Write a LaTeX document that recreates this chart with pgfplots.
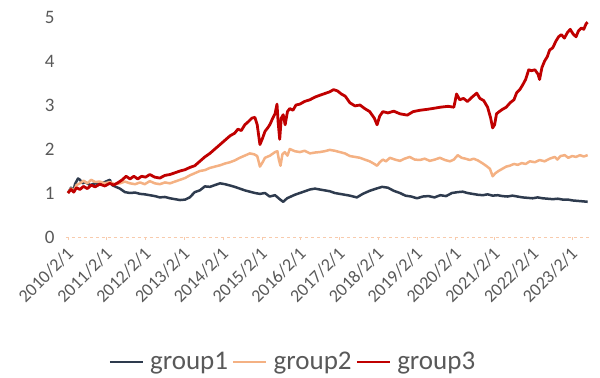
\documentclass[border=0pt]{standalone}
\usepackage{pgfplots}
\pgfplotsset{compat=1.18}
\usepackage{fontspec}
\setmainfont{Carlito}
\definecolor{gA}{HTML}{2E3B4E}
\definecolor{gB}{HTML}{F4B183}
\definecolor{gC}{HTML}{C00000}
\definecolor{txt}{HTML}{595959}
\definecolor{axl}{HTML}{F8CBAD}
\begin{document}
\begin{tikzpicture}
\path[use as bounding box] (-66bp,-141bp) rectangle (534bp,237bp);
\begin{axis}[
  at={(0,0)}, anchor=south west,
  scale only axis, width=524bp, height=220bp,
  xmin=2009.95, xmax=2023.46, ymin=0, ymax=5,
  axis x line*=bottom, axis y line*=left,
  x axis line style={draw=axl, dashed, line width=0.8bp, -},
  y axis line style={draw=none},
  xtick={2010,...,2023},
  xticklabels={2010/2/1,2011/2/1,2012/2/1,2013/2/1,2014/2/1,2015/2/1,2016/2/1,2017/2/1,2018/2/1,2019/2/1,2020/2/1,2021/2/1,2022/2/1,2023/2/1},
  x tick label style={xshift=3bp, yshift=-10bp, rotate=45, anchor=east, font=\fontsize{18bp}{18bp}\selectfont, text=txt, inner sep=1bp},
  xtick style={draw=axl, line width=0.6bp},
  major tick length=3bp,
  tick align=outside,
  ytick={0,...,5},
  ytick style={draw=none},
  y tick label style={font=\fontsize{19bp}{19bp}\selectfont, text=txt, xshift=-5bp},
  /pgf/number format/assume math mode=true,
  legend columns=-1,
  legend style={at={(0.433,-0.568)}, anchor=center, draw=none, fill=none,
    font=\fontsize{27bp}{27bp}\selectfont, text=txt, inner sep=0pt,
    /tikz/every even column/.append style={column sep=2bp},
    /tikz/every odd column/.append style={column sep=4bp}},
  legend image code/.code={\draw[#1, line width=2.6bp] (0bp,0bp) -- (33bp,0bp);},
  clip=false,
]
\addplot[gA, line width=2.5bp, line join=round] coordinates {
(2010.00,1.00)(2010.08,1.12)(2010.15,1.05)(2010.18,1.20)(2010.26,1.33)(2010.31,1.30)(2010.38,1.22)(2010.44,1.25)(2010.57,1.18)(2010.70,1.22)(2010.82,1.20)(2010.95,1.25)(2011.08,1.30)(2011.14,1.18)(2011.21,1.15)(2011.34,1.10)(2011.47,1.02)(2011.60,1.00)(2011.73,1.01)(2011.86,0.98)(2011.98,0.97)(2012.11,0.95)(2012.24,0.93)(2012.37,0.90)(2012.50,0.91)(2012.63,0.88)(2012.76,0.86)(2012.89,0.84)(2013.02,0.85)(2013.14,0.90)(2013.27,1.02)(2013.40,1.06)(2013.53,1.15)(2013.66,1.14)(2013.79,1.18)(2013.92,1.22)(2014.05,1.20)(2014.18,1.17)(2014.30,1.14)(2014.43,1.10)(2014.56,1.06)(2014.69,1.03)(2014.82,1.00)(2014.95,0.98)(2015.08,1.00)(2015.20,0.92)(2015.34,0.95)(2015.46,0.86)(2015.55,0.80)(2015.65,0.88)(2015.75,0.92)(2015.85,0.96)(2015.98,1.00)(2016.11,1.04)(2016.24,1.08)(2016.37,1.10)(2016.49,1.08)(2016.62,1.06)(2016.75,1.04)(2016.88,1.00)(2017.01,0.98)(2017.14,0.96)(2017.27,0.94)(2017.45,0.90)(2017.60,0.98)(2017.78,1.05)(2017.95,1.10)(2018.10,1.14)(2018.25,1.12)(2018.40,1.05)(2018.56,1.00)(2018.70,0.94)(2018.85,0.92)(2019.00,0.88)(2019.15,0.92)(2019.30,0.93)(2019.45,0.90)(2019.60,0.95)(2019.75,0.93)(2019.90,1.00)(2020.05,1.02)(2020.18,1.03)(2020.30,1.00)(2020.43,0.98)(2020.57,0.96)(2020.70,0.95)(2020.82,0.97)(2020.95,0.94)(2021.08,0.95)(2021.20,0.93)(2021.33,0.92)(2021.46,0.94)(2021.59,0.92)(2021.72,0.90)(2021.85,0.89)(2021.98,0.88)(2022.11,0.90)(2022.24,0.88)(2022.37,0.87)(2022.50,0.86)(2022.63,0.87)(2022.76,0.85)(2022.89,0.85)(2023.02,0.83)(2023.15,0.82)(2023.28,0.81)(2023.40,0.80)
};
\addlegendentry{group1}
\addplot[gB, line width=2.5bp, line join=round] coordinates {
(2010.00,1.00)(2010.08,1.10)(2010.15,1.05)(2010.22,1.18)(2010.31,1.22)(2010.40,1.28)(2010.50,1.22)(2010.60,1.30)(2010.70,1.25)(2010.82,1.26)(2010.95,1.22)(2011.08,1.25)(2011.20,1.20)(2011.34,1.22)(2011.47,1.26)(2011.60,1.22)(2011.73,1.20)(2011.86,1.24)(2011.98,1.20)(2012.11,1.27)(2012.24,1.22)(2012.37,1.20)(2012.50,1.24)(2012.63,1.22)(2012.76,1.26)(2012.89,1.30)(2013.02,1.34)(2013.14,1.40)(2013.27,1.45)(2013.40,1.50)(2013.53,1.52)(2013.66,1.57)(2013.79,1.60)(2013.92,1.63)(2014.05,1.67)(2014.18,1.70)(2014.30,1.74)(2014.43,1.80)(2014.56,1.85)(2014.69,1.90)(2014.80,1.88)(2014.88,1.84)(2014.95,1.60)(2015.02,1.70)(2015.08,1.80)(2015.21,1.85)(2015.34,1.93)(2015.40,1.95)(2015.44,1.75)(2015.48,1.62)(2015.53,1.88)(2015.59,1.93)(2015.66,1.85)(2015.72,2.00)(2015.85,1.95)(2015.98,1.93)(2016.10,1.96)(2016.24,1.90)(2016.37,1.92)(2016.49,1.93)(2016.62,1.95)(2016.75,1.98)(2016.88,1.96)(2017.01,1.93)(2017.14,1.90)(2017.27,1.84)(2017.40,1.82)(2017.53,1.80)(2017.65,1.76)(2017.78,1.72)(2017.90,1.66)(2017.97,1.62)(2018.04,1.70)(2018.12,1.76)(2018.20,1.72)(2018.30,1.80)(2018.43,1.76)(2018.56,1.73)(2018.68,1.78)(2018.81,1.82)(2018.94,1.76)(2019.07,1.75)(2019.20,1.78)(2019.33,1.73)(2019.46,1.76)(2019.59,1.80)(2019.72,1.75)(2019.85,1.72)(2019.95,1.76)(2020.05,1.86)(2020.15,1.80)(2020.25,1.78)(2020.36,1.75)(2020.46,1.78)(2020.57,1.74)(2020.68,1.68)(2020.78,1.62)(2020.88,1.55)(2020.95,1.38)(2021.02,1.45)(2021.10,1.50)(2021.20,1.55)(2021.30,1.60)(2021.39,1.62)(2021.50,1.66)(2021.60,1.64)(2021.70,1.68)(2021.80,1.66)(2021.91,1.72)(2022.04,1.70)(2022.16,1.75)(2022.29,1.72)(2022.42,1.78)(2022.55,1.82)(2022.62,1.76)(2022.70,1.84)(2022.81,1.86)(2022.90,1.80)(2023.00,1.84)(2023.10,1.82)(2023.20,1.86)(2023.30,1.83)(2023.40,1.86)
};
\addlegendentry{group2}
\addplot[gC, line width=2.8bp, line join=round] coordinates {
(2010.00,1.00)(2010.08,1.08)(2010.15,1.02)(2010.22,1.12)(2010.31,1.08)(2010.40,1.15)(2010.50,1.10)(2010.60,1.18)(2010.70,1.14)(2010.82,1.20)(2010.95,1.16)(2011.08,1.22)(2011.18,1.18)(2011.30,1.24)(2011.40,1.30)(2011.50,1.38)(2011.60,1.32)(2011.70,1.38)(2011.80,1.32)(2011.90,1.38)(2012.00,1.36)(2012.11,1.42)(2012.24,1.36)(2012.37,1.34)(2012.50,1.40)(2012.63,1.42)(2012.76,1.46)(2012.89,1.50)(2013.02,1.53)(2013.14,1.58)(2013.27,1.62)(2013.40,1.72)(2013.53,1.82)(2013.66,1.90)(2013.79,2.00)(2013.92,2.10)(2014.05,2.20)(2014.18,2.30)(2014.30,2.36)(2014.38,2.45)(2014.47,2.42)(2014.56,2.55)(2014.65,2.62)(2014.74,2.70)(2014.82,2.72)(2014.88,2.55)(2014.95,2.10)(2015.02,2.25)(2015.08,2.40)(2015.15,2.48)(2015.21,2.56)(2015.28,2.70)(2015.34,2.80)(2015.39,3.02)(2015.42,2.60)(2015.46,2.22)(2015.50,2.70)(2015.55,2.78)(2015.60,2.55)(2015.66,2.85)(2015.72,2.92)(2015.80,2.88)(2015.88,3.00)(2015.98,3.02)(2016.10,3.08)(2016.24,3.12)(2016.37,3.18)(2016.49,3.22)(2016.62,3.26)(2016.75,3.30)(2016.85,3.35)(2016.95,3.32)(2017.05,3.25)(2017.15,3.20)(2017.27,3.05)(2017.40,2.98)(2017.53,3.00)(2017.65,2.92)(2017.78,2.85)(2017.90,2.70)(2017.97,2.55)(2018.04,2.75)(2018.12,2.85)(2018.25,2.82)(2018.40,2.86)(2018.56,2.80)(2018.75,2.77)(2018.90,2.85)(2019.07,2.88)(2019.25,2.90)(2019.40,2.92)(2019.60,2.95)(2019.80,2.97)(2019.95,2.95)(2020.02,3.25)(2020.10,3.12)(2020.20,3.15)(2020.30,3.08)(2020.42,3.18)(2020.54,3.27)(2020.62,3.15)(2020.72,3.10)(2020.82,2.95)(2020.90,2.70)(2020.95,2.48)(2021.00,2.55)(2021.05,2.80)(2021.12,2.85)(2021.20,2.90)(2021.30,2.95)(2021.40,3.05)(2021.50,3.12)(2021.57,3.28)(2021.65,3.35)(2021.72,3.45)(2021.80,3.58)(2021.88,3.80)(2021.95,3.78)(2022.04,3.80)(2022.12,3.70)(2022.16,3.58)(2022.22,3.85)(2022.29,4.00)(2022.36,4.10)(2022.42,4.25)(2022.50,4.30)(2022.58,4.45)(2022.65,4.55)(2022.72,4.60)(2022.80,4.52)(2022.88,4.65)(2022.95,4.72)(2023.02,4.62)(2023.10,4.55)(2023.16,4.68)(2023.24,4.75)(2023.30,4.72)(2023.36,4.85)(2023.40,4.88)
};
\addlegendentry{group3}
\end{axis}
\end{tikzpicture}
\end{document}
